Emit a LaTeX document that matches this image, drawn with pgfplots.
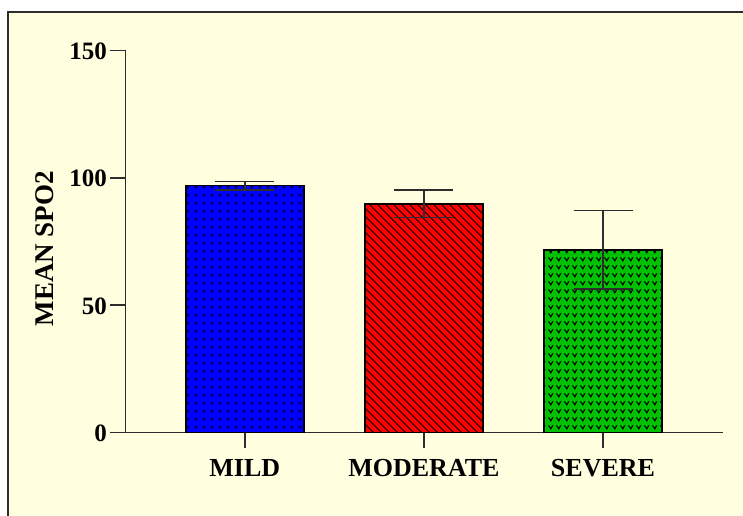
\documentclass[border=0pt]{standalone}
\usepackage{fontspec}
\setmainfont{Liberation Serif}
\usepackage{pgfplots}
\pgfplotsset{compat=1.18}
\usetikzlibrary{patterns.meta}
\definecolor{bgyellow}{RGB}{255,255,224}
\definecolor{mygreen}{RGB}{0,192,0}
\definecolor{axgray}{RGB}{45,45,45}
\pgfdeclarepattern{
  name=mydots, type=uncolored,
  bottom left={\pgfqpoint{0pt}{0pt}}, top right={\pgfqpoint{7.7pt}{7.7pt}},
  tile size={\pgfqpoint{7.7pt}{7.7pt}},
  code={\pgfpathrectangle{\pgfqpoint{3pt}{2.8pt}}{\pgfqpoint{1.8pt}{2.3pt}}\pgfusepath{fill}}
}
\pgfdeclarepattern{
  name=mylines, type=uncolored,
  bottom left={\pgfqpoint{-1pt}{-1pt}}, top right={\pgfqpoint{9pt}{9pt}},
  tile size={\pgfqpoint{8pt}{8pt}},
  code={\pgfsetlinewidth{1pt}\pgfpathmoveto{\pgfqpoint{0pt}{8pt}}\pgfpathlineto{\pgfqpoint{8pt}{0pt}}\pgfusepath{stroke}}
}
\pgfdeclarepattern{
  name=myvees, type=uncolored,
  bottom left={\pgfqpoint{0pt}{0pt}}, top right={\pgfqpoint{7.7pt}{7.7pt}},
  tile size={\pgfqpoint{7.7pt}{7.7pt}},
  code={\pgfsetlinewidth{1.1pt}\pgfpathmoveto{\pgfqpoint{1.5pt}{5.8pt}}\pgfpathlineto{\pgfqpoint{3.85pt}{2.6pt}}\pgfpathlineto{\pgfqpoint{6.2pt}{5.8pt}}\pgfusepath{stroke}
    \pgfpathrectangle{\pgfqpoint{3.2pt}{1.8pt}}{\pgfqpoint{1.3pt}{1.4pt}}\pgfusepath{fill}}
}
\begin{document}
\begin{tikzpicture}[x=1pt,y=1pt]
\useasboundingbox (0,0) rectangle (743,515);
\fill[white] (0,0) rectangle (743,515);
\draw[line width=2pt, draw=axgray, fill=bgyellow] (7.5,-20) rectangle (790,503);
\begin{axis}[
  at={(125.5pt,82.3pt)}, anchor=south west,
  scale only axis, width=597.5pt, height=382.4pt,
  xmin=-0.666, xmax=2.670, ymin=0, ymax=150,
  axis x line*=bottom, axis y line*=left,
  axis line style={line width=1.5pt, axgray, -},
  xtick={0,1,2}, xticklabels={MILD,MODERATE,SEVERE},
  ytick={0,50,100,150},
  tick align=outside, major tick length=15.5pt,
  tick style={line width=1.5pt, axgray},
  /pgf/number format/assume math mode=true,
  y tick label style={font=\fontsize{25}{27}\selectfont\bfseries, anchor=east, inner sep=0pt, xshift=-3pt, yshift=-1pt},
  x tick label style={font=\fontsize{26}{28}\selectfont\bfseries, inner sep=0pt, yshift=-11pt},
  ylabel={MEAN SPO2},
  every axis y label/.style={at={(axis description cs:-0.135,0.481)}, rotate=90, anchor=center, font=\fontsize{27}{29}\selectfont\bfseries},
  clip=false,
]
\addplot[ybar, bar width=118pt, bar shift=0pt, draw=black, line width=1.5pt, fill=blue,
  postaction={pattern={mydots}},
  error bars/.cd, y dir=both, y explicit,
  error bar style={line width=1.5pt, axgray},
  error mark options={rotate=90, mark size=29.5pt, line width=1.5pt, axgray}]
  coordinates {(0,96.9) +- (0,1.65)};
\addplot[ybar, bar width=118pt, bar shift=0pt, draw=black, line width=1.5pt, fill=red,
  postaction={pattern={mylines}},
  error bars/.cd, y dir=both, y explicit,
  error bar style={line width=1.5pt, axgray},
  error mark options={rotate=90, mark size=29.5pt, line width=1.5pt, axgray}]
  coordinates {(1,89.8) +- (0,5.4)};
\addplot[ybar, bar width=118pt, bar shift=0pt, draw=black, line width=1.5pt, fill=mygreen,
  postaction={pattern={myvees}},
  error bars/.cd, y dir=both, y explicit,
  error bar style={line width=1.5pt, axgray},
  error mark options={rotate=90, mark size=29.5pt, line width=1.5pt, axgray}]
  coordinates {(2,71.7) +- (0,15.4)};
\end{axis}
\end{tikzpicture}
\end{document}
